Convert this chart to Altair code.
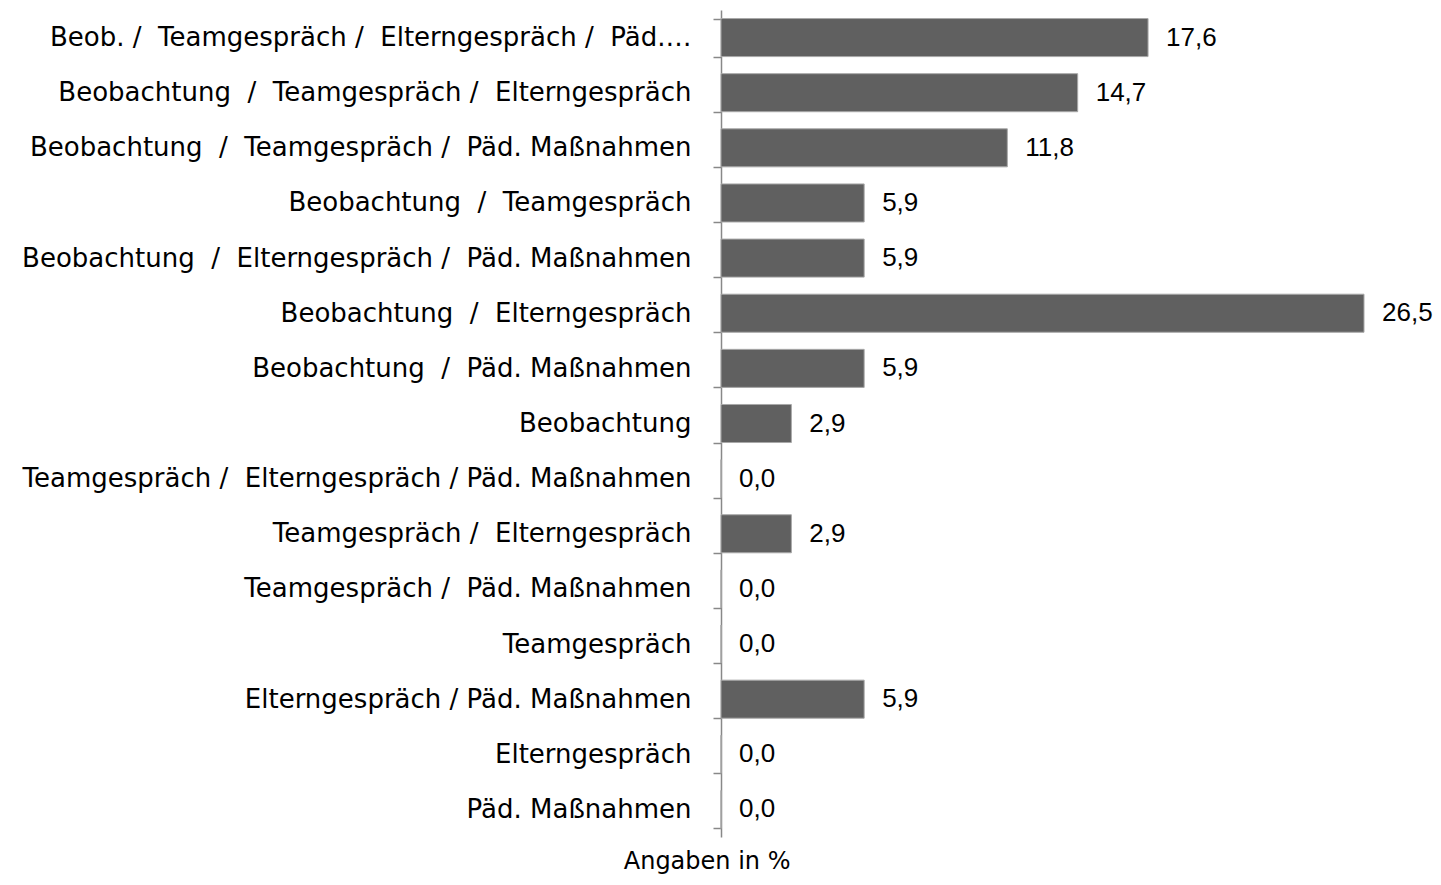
import altair as alt
import pandas as pd

S = "\u00a0"
categories = [
    f"Beob. /{S} Teamgespräch /{S} Elterngespräch /{S} Päd.…",
    f"Beobachtung{S} /{S} Teamgespräch /{S} Elterngespräch",
    f"Beobachtung{S} /{S} Teamgespräch /{S} Päd. Maßnahmen",
    f"Beobachtung{S} /{S} Teamgespräch",
    f"Beobachtung{S} /{S} Elterngespräch /{S} Päd. Maßnahmen",
    f"Beobachtung{S} /{S} Elterngespräch",
    f"Beobachtung{S} /{S} Päd. Maßnahmen",
    "Beobachtung",
    f"Teamgespräch /{S} Elterngespräch / Päd. Maßnahmen",
    f"Teamgespräch /{S} Elterngespräch",
    f"Teamgespräch /{S} Päd. Maßnahmen",
    "Teamgespräch",
    "Elterngespräch / Päd. Maßnahmen",
    "Elterngespräch",
    "Päd. Maßnahmen",
]
values = [17.6, 14.7, 11.8, 5.9, 5.9, 26.5, 5.9, 2.9, 0.0, 2.9, 0.0, 0.0, 5.9, 0.0, 0.0]

df = pd.DataFrame({"cat": categories, "val": values})

FONT = "DejaVu Sans"
NUMFONT = "Liberation Sans"

y = alt.Y("cat:N", sort=categories, title=None,
          scale=alt.Scale(paddingInner=0.31, paddingOuter=0.155),
          axis=alt.Axis(domainColor="#888888", tickColor="#888888", tickSize=8,
                        tickBand="extent", labelPadding=22, labelFont=FONT,
                        labelFontSize=26, labelColor="#000000", labelLimit=800,
                        grid=False, domainWidth=1.5, tickWidth=1.5))
x = alt.X("val:Q", title=None, axis=None, scale=alt.Scale(domain=[0, 26.5], nice=False, zero=True))

bars = alt.Chart(df).mark_bar(color="#606060", stroke="#a8a8a8", strokeWidth=1).encode(x=x, y=y)

labels = alt.Chart(df).transform_calculate(
    lab="replace(format(datum.val, '.1f'), '.', ',')"
).mark_text(align="left", baseline="middle", dx=18, font=NUMFONT, fontSize=26, color="#000000").encode(
    x=x, y=alt.Y("cat:N", sort=categories), text="lab:N")

chart = (bars + labels).properties(
    width=643, height=827,
    title=alt.TitleParams("Angaben in %", orient="bottom", anchor="middle", frame="bounds",
                          font=FONT, fontSize=24, fontWeight="normal", color="#000000", offset=13, dx=-20),
    autosize=alt.AutoSizeParams(type="none"),
    padding={"left": 713, "top": 2, "right": 69, "bottom": 40},
).configure_view(stroke=None)

chart.save("out.html", embed_options={"renderer": "svg", "actions": False})
